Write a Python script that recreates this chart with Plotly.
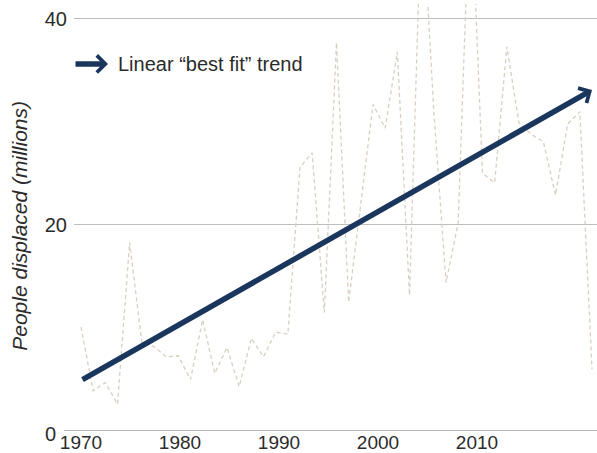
import plotly.graph_objects as go

# ---- data ----
point_index = list(range(43))
displaced = [10.1, 3.9, 4.7, 2.6, 18.3, 8.6, 8.2, 7.2, 7.3, 5.0,
             10.8, 5.6, 8.1, 4.3, 9.0, 7.2, 9.6, 9.4, 25.6, 27.0,
             11.5, 37.7, 12.5, 22.2, 31.7, 29.4, 36.8, 13.2, 52.0, 31.0,
             14.4, 20.2, 54.0, 25.0, 24.1, 37.3, 29.9, 28.8, 28.1, 22.9,
             29.8, 31.0, 6.0]
trend_points = [0, 42]
trend_values = [4.9, 33.1]
tick_years = [1970, 1980, 1990, 2000, 2010]
tick_labels = [str(y) for y in tick_years]
y_ticks = [20, 40]

# year labels are spaced slightly differently from the data points in the original
POINTS_PER_YEAR = 9.9 / 12.167
tickvals = [(y - 1970) * POINTS_PER_YEAR for y in tick_years]

NAVY = "#1b365d"
TEXT = "#2b2b2b"
FONT = "Liberation Sans, Arial, sans-serif"

W, H = 597, 453
L, R, T, B = 74, 0, 4, 21.5
PW, PH = W - L - R, H - T - B


def px_x(px):
    return (px - L) / PW


def px_y(py):
    return (H - B - py) / PH


fig = go.Figure()
fig.add_trace(go.Scatter(
    x=point_index, y=displaced, mode="lines",
    line=dict(color="#d8cfc1", width=1.3, dash="4px,3px"),
    hoverinfo="skip", showlegend=False,
))

fig.update_layout(
    width=W, height=H,
    margin=dict(l=L, r=R, t=T, b=B, pad=0),
    paper_bgcolor="white", plot_bgcolor="white",
    font=dict(family=FONT, color=TEXT),
    showlegend=False,
    xaxis=dict(range=[-0.575, 42.41], showgrid=False, zeroline=False, showline=False,
               ticks="", tickmode="array", tickvals=tickvals, ticktext=tick_labels,
               tickfont=dict(size=19, color=TEXT), ticklabelstandoff=-2,
               automargin=False),
    yaxis=dict(range=[0, 41.45], tickmode="array", tickvals=y_ticks,
               showgrid=True, gridcolor="#bdbdbd", gridwidth=1.2,
               zeroline=False, showline=False, ticks="",
               tickfont=dict(size=20, color=TEXT), ticklabelstandoff=6,
               automargin=False),
    shapes=[dict(type="line", xref="paper", yref="y", x0=px_x(64), x1=1, y0=0, y1=0,
                 line=dict(color="#9e9e9e", width=1.5))],
    annotations=[
        dict(text="0", xref="paper", yref="y", x=px_x(58), y=0, xanchor="right",
             yanchor="middle", yshift=-3, showarrow=False, font=dict(size=20, color=TEXT)),
        dict(text="<i>People displaced (millions)</i>", xref="paper", yref="paper",
             x=px_x(20), y=px_y(226), xanchor="center", yanchor="middle", textangle=-90,
             showarrow=False, font=dict(size=21, color=TEXT)),
        dict(text="", xref="paper", yref="paper", x=px_x(108), y=px_y(64),
             showarrow=True, ax=-34, ay=0, arrowhead=4, arrowsize=0.6, arrowwidth=5.5,
             arrowcolor=NAVY, standoff=0),
        dict(text="Linear “best fit” trend", xref="paper", yref="paper",
             x=px_x(116), y=px_y(64), xanchor="left", yanchor="middle",
             showarrow=False, font=dict(size=20, color=TEXT)),
        dict(text="", xref="x", yref="y", x=trend_points[1], y=trend_values[1],
             axref="x", ayref="y", ax=trend_points[0], ay=trend_values[0],
             showarrow=True, arrowhead=4, arrowsize=0.6, arrowwidth=5.5,
             arrowcolor=NAVY, standoff=0),
    ],
)

fig.write_html("out.html",
               config={"displayModeBar": False},
               post_script="document.body.style.margin='0';document.body.style.overflow='hidden';")
